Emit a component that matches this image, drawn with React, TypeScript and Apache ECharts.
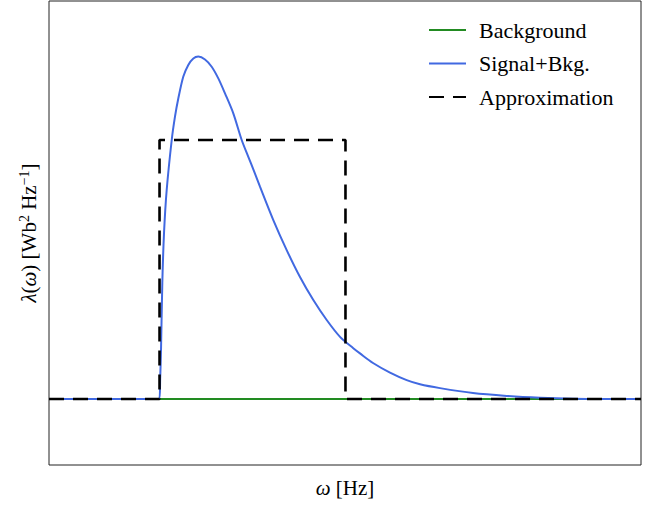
import React, { useEffect, useRef } from "react";
import * as echarts from "echarts";

// x in arbitrary frequency units, y relative to background level
const backgroundX = [0, 10];
const backgroundY = [0, 0];

const signalX = [0, 1.0, 1.8, 1.863, 1.878, 1.892, 1.914, 1.943, 1.988, 2.073, 2.128, 2.184, 2.269, 2.353, 2.438, 2.522, 2.635, 2.748, 2.86, 2.973, 3.113, 3.255, 3.367, 3.463, 3.564, 3.789, 4.015, 4.24, 4.465, 4.691, 4.916, 5.14, 5.253, 5.473, 5.76, 6.042, 6.267, 6.605, 7.162, 7.731, 8.294, 8.851, 9.4, 10];
const signalY = [0, 0, 0, 0, 0.08, 0.189, 0.448, 0.641, 0.807, 1.0, 1.09, 1.16, 1.245, 1.29, 1.315, 1.322, 1.311, 1.283, 1.238, 1.18, 1.103, 1.0, 0.935, 0.88, 0.82, 0.691, 0.575, 0.471, 0.382, 0.305, 0.24, 0.196, 0.176, 0.139, 0.102, 0.073, 0.057, 0.042, 0.023, 0.012, 0.005, 0.001, 0, 0];

const approxX = [0, 1.867, 1.867, 5.008, 5.008, 10];
const approxY = [0, 0, 1, 1, 0, 0];

const legendNames = ["Background", "Signal+Bkg.", "Approximation"];

const zip = (xs: number[], ys: number[]) => xs.map((x, i) => [x, ys[i]]);

const FONT = "Liberation Serif";

export default function App() {
  const ref = useRef<HTMLDivElement>(null);
  useEffect(() => {
    if (!ref.current) return;
    const chart = echarts.init(ref.current, undefined, { renderer: "svg" });
    const richBase = {
      i: { fontStyle: "italic", fontFamily: FONT, fontSize: 21, color: "#000", lineHeight: 23 },
      s: { fontFamily: FONT, fontSize: 14, color: "#000", lineHeight: 14, verticalAlign: "top" },
      n: { fontFamily: FONT, fontSize: 21, color: "#000", lineHeight: 23 },
    };
    chart.setOption({
      animation: false,
      backgroundColor: "#fff",
      grid: {
        left: 49,
        right: 21,
        top: 1,
        bottom: 41,
        show: true,
        borderColor: "#222",
        borderWidth: 1,
        backgroundColor: "transparent",
        outerBoundsMode: "none",
      },
      legend: {
        orient: "vertical",
        left: 428,
        top: 19,
        padding: 0,
        itemWidth: 37,
        itemHeight: 20,
        itemGap: 11.5,
        data: legendNames,
        itemStyle: { color: "transparent", borderColor: "transparent", borderWidth: 0, opacity: 0 },
        textStyle: {
          fontFamily: FONT,
          fontSize: 22,
          color: "#000",
          lineHeight: 20,
          padding: [0, 0, 0, 8],
        },
      },
      xAxis: {
        type: "value",
        min: 0,
        max: 10,
        axisLine: { show: false },
        axisTick: { show: false },
        axisLabel: { show: false },
        splitLine: { show: false },
        name: "{i|ω} {n|[Hz]}",
        nameLocation: "middle",
        nameGap: 11,
        nameTextStyle: { rich: richBase, fontFamily: FONT, fontSize: 21, color: "#000" },
      },
      yAxis: {
        type: "value",
        min: -0.2548,
        max: 1.5367,
        axisLine: { show: false },
        axisTick: { show: false },
        axisLabel: { show: false },
        splitLine: { show: false },
        name: "{i|λ}{n|(}{i|ω}{n|) [Wb}{s|2}{n| Hz}{s|−1}{n|]}",
        nameLocation: "middle",
        nameGap: 9,
        nameTextStyle: { rich: richBase, fontFamily: FONT, fontSize: 21, color: "#000" },
      },
      series: [
        {
          name: legendNames[0],
          type: "line",
          data: zip(backgroundX, backgroundY),
          symbol: "none",
          lineStyle: { color: "#228b22", width: 2 },
          itemStyle: { color: "#228b22" },
          z: 2,
        },
        {
          name: legendNames[1],
          type: "line",
          data: zip(signalX, signalY),
          symbol: "none",
          smooth: 0.3,
          lineStyle: { color: "#4169e1", width: 2 },
          itemStyle: { color: "#4169e1" },
          z: 3,
        },
        {
          name: legendNames[2],
          type: "line",
          data: zip(approxX, approxY),
          symbol: "none",
          lineStyle: { color: "#000", width: 2.6, type: [15, 9] },
          itemStyle: { color: "#000" },
          z: 4,
        },
      ],
    });
    return () => chart.dispose();
  }, []);
  return (
    <div
      ref={ref}
      style={{ position: "absolute", left: 0, top: 0, width: 662, height: 506 }}
    />
  );
}
